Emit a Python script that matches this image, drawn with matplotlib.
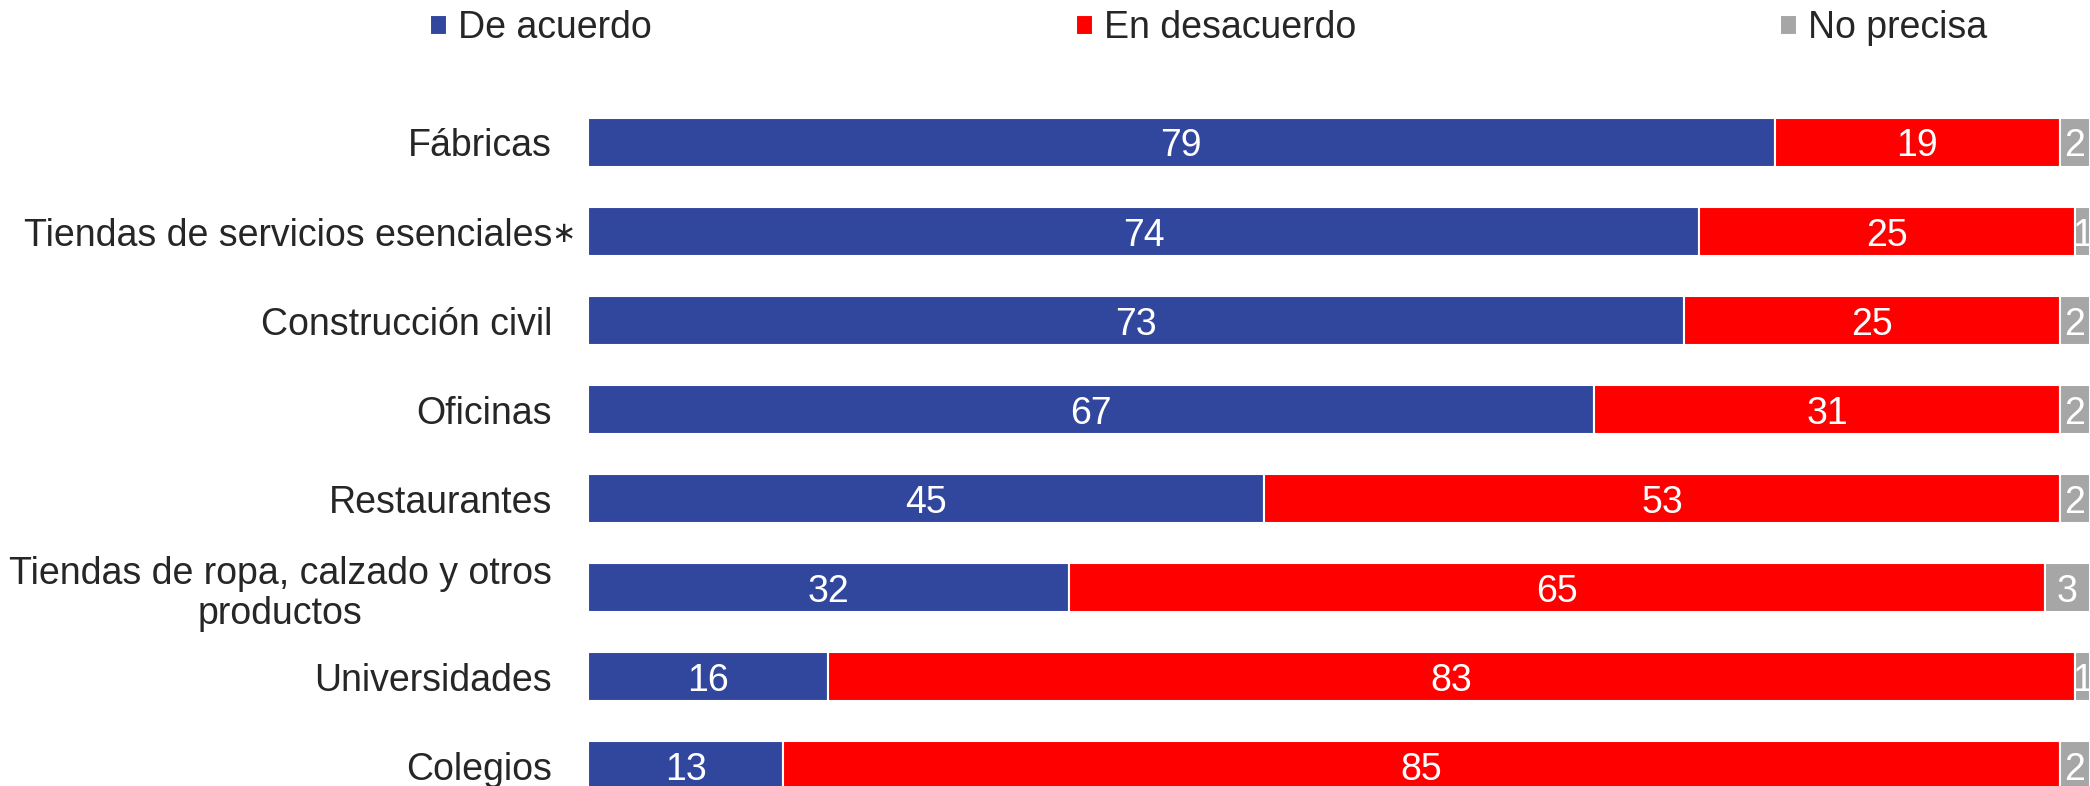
import matplotlib
matplotlib.use('Agg')
import matplotlib.pyplot as plt

categorias = ['Fábricas', 'Tiendas de servicios esenciales', 'Construcción civil',
              'Oficinas', 'Restaurantes', 'Tiendas de ropa, calzado y otros\nproductos',
              'Universidades', 'Colegios']
de_acuerdo = [79, 74, 73, 67, 45, 32, 16, 13]
en_desacuerdo = [19, 25, 25, 31, 53, 65, 83, 85]
no_precisa = [2, 1, 2, 2, 2, 3, 1, 2]
series_nombres = ['De acuerdo', 'En desacuerdo', 'No precisa']

colores = ['#31479E', '#FF0000', '#A6A6A6']
texto = '#262626'
fs = 27

plt.rcParams['font.family'] = ['Liberation Sans', 'DejaVu Sans']

fig = plt.figure(figsize=(20.9, 7.86), dpi=100)
ax = fig.add_axes([588 / 2090, 0, 1 - 588 / 2090, 1])

y = list(range(len(categorias)))
izquierda = [0] * len(categorias)
barras = []
for valores, color, nombre in zip([de_acuerdo, en_desacuerdo, no_precisa], colores, series_nombres):
    b = ax.barh(y, valores, left=izquierda, height=0.55, color=color,
                edgecolor='white', linewidth=1.5, label=nombre)
    barras.append(b)
    for yi, v, l in zip(y, valores, izquierda):
        ax.text(l + v / 2, yi, str(v), ha='center', va='center_baseline',
                color='white', fontsize=fs)
    izquierda = [a + v for a, v in zip(izquierda, valores)]

ax.set_xlim(0, 100)
ax.set_ylim(7.23, -1.601)
ax.set_yticks(y)
ax.set_yticklabels(categorias, fontsize=fs, color=texto)
for lbl in ax.get_yticklabels():
    lbl.set_multialignment('center')
    lbl.set_linespacing(1.15)
ax.tick_params(axis='y', length=0, pad=26)
ax.set_xticks([])
for s in ax.spines.values():
    s.set_visible(False)

# asterisco junto a la etiqueta
ax.annotate('∗', xy=(0, 1), xytext=(-18, -2), textcoords='offset points',
            ha='center', va='center', fontsize=21, color=texto,
            family=['DejaVu Sans'], annotation_clip=False)

fig.legend(handles=barras, labels=series_nombres, loc='center left',
           bbox_to_anchor=(430 / 2090, 1 - 28 / 786), ncol=3, frameon=False,
           fontsize=fs, handlelength=0.45, handleheight=0.45, handletextpad=0.3,
           columnspacing=11.3, borderpad=0, borderaxespad=0, labelcolor=texto)

fig.savefig('out.png', dpi=100)
